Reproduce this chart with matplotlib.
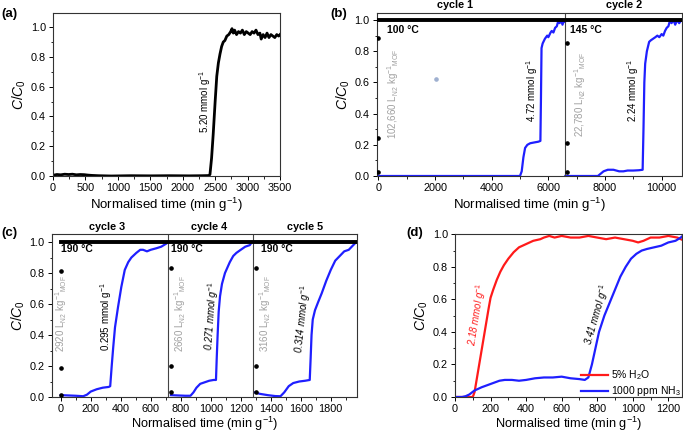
import matplotlib
matplotlib.use("Agg")
import matplotlib.pyplot as plt
from matplotlib.ticker import MultipleLocator

plt.rcParams['font.family'] = ['Liberation Sans', 'DejaVu Sans']
plt.rcParams['mathtext.fontset'] = 'custom'
plt.rcParams['mathtext.rm'] = 'Liberation Sans'
plt.rcParams['mathtext.it'] = 'Liberation Sans:italic'
plt.rcParams['mathtext.bf'] = 'Liberation Sans:bold'

# ---------------- data ----------------
# (a)
a_time = [0, 60, 120, 180, 240, 300, 360, 420, 480, 540, 600, 700, 900, 1200, 1500, 1800, 2100, 2300,
          2400, 2420, 2445, 2470, 2500, 2525, 2550, 2575, 2600, 2625, 2650, 2680, 2710, 2740, 2760, 2780,
          2800, 2830, 2860, 2890, 2920, 2950, 2980, 3010, 3040, 3070, 3100, 3130, 3160, 3190, 3210, 3240,
          3270, 3300, 3330, 3360, 3390, 3420, 3450, 3480, 3500]
a_c = [0.005, 0.01, 0.008, 0.012, 0.01, 0.012, 0.008, 0.01, 0.009, 0.006, 0.004, 0.002, 0.0, 0.002, 0.001,
       0.002, 0.001, 0.002, 0.003, 0.01, 0.12, 0.28, 0.5, 0.67, 0.76, 0.82, 0.87, 0.9, 0.91, 0.94, 0.95,
       0.97, 0.99, 0.96, 0.98, 0.95, 0.97, 0.96, 0.98, 0.95, 0.97, 0.96, 0.95, 0.97, 0.96, 0.98, 0.95, 0.96,
       0.92, 0.95, 0.93, 0.96, 0.93, 0.95, 0.94, 0.93, 0.95, 0.94, 0.95]

# (b) cycle 1 and cycle 2 (blue), reference (black)
b1_time = [0, 1000, 2000, 3000, 4000, 5000, 5060, 5120, 5180, 5260, 5360, 5500, 5650, 5720, 5740, 5760,
           5800, 5880, 5960, 6000, 6080, 6120, 6180, 6240, 6300, 6360, 6400, 6450, 6500, 6560, 6590]
b1_c = [0, 0, 0, 0, 0, 0.0, 0.03, 0.12, 0.18, 0.2, 0.21, 0.215, 0.22, 0.225, 0.5, 0.82, 0.85, 0.88, 0.9,
        0.89, 0.92, 0.93, 0.92, 0.95, 0.96, 1.0, 0.98, 1.0, 0.97, 1.0, 0.99]
b2_time = [6600, 7000, 7500, 7750, 7850, 7950, 8100, 8300, 8500, 8650, 8800, 9000, 9200, 9330, 9360, 9390,
           9420, 9480, 9560, 9620, 9700, 9780, 9850, 9920, 10000, 10060, 10120, 10180, 10240, 10300, 10350,
           10420, 10480, 10550, 10620, 10700]
b2_c = [0, 0, 0, 0, 0.015, 0.03, 0.04, 0.04, 0.03, 0.03, 0.035, 0.035, 0.037, 0.04, 0.3, 0.6, 0.72, 0.8,
        0.86, 0.87, 0.88, 0.89, 0.9, 0.89, 0.91, 0.9, 0.93, 0.95, 0.96, 1.0, 0.98, 1.0, 0.97, 1.0, 0.98, 1.0]
b_ref_time = [0, 10700]
b_ref_c = [1.0, 1.0]
b_dot_time = [0, 0, 0, 6650, 6650, 6650]
b_dot_c = [0.887, 0.242, 0.028, 0.855, 0.214, 0.028]
b_grey_time = [2025]
b_grey_c = [0.62]
b_cycle_edges = [6590]

# (c) cycles 3-5
c3_time = [0, 50, 100, 150, 175, 200, 240, 280, 320, 330, 340, 350, 362, 382, 404, 427, 450, 471, 504,
           530, 549, 575, 600, 638, 670, 704, 715]
c3_c = [0.012, 0.01, 0.008, 0.005, 0.015, 0.035, 0.05, 0.06, 0.065, 0.07, 0.2, 0.32, 0.45, 0.58, 0.71,
        0.82, 0.87, 0.9, 0.93, 0.95, 0.95, 0.94, 0.95, 0.96, 0.97, 0.99, 1.0]
c4_time = [735, 780, 830, 865, 885, 905, 930, 960, 990, 1020, 1035, 1040, 1046, 1053, 1062, 1075, 1095,
           1127, 1150, 1171, 1200, 1230, 1260, 1275]
c4_c = [0.012, 0.01, 0.008, 0.008, 0.03, 0.06, 0.085, 0.095, 0.105, 0.11, 0.11, 0.25, 0.4, 0.55, 0.65,
        0.73, 0.8, 0.87, 0.91, 0.93, 0.95, 0.97, 0.98, 1.0]
c5_time = [1290, 1330, 1380, 1430, 1465, 1490, 1520, 1550, 1590, 1630, 1660, 1666, 1672, 1680, 1695, 1715,
           1740, 1770, 1800, 1830, 1860, 1890, 1920, 1950, 1970]
c5_c = [0.03, 0.02, 0.012, 0.006, 0.005, 0.03, 0.07, 0.09, 0.1, 0.105, 0.11, 0.25, 0.4, 0.5, 0.56, 0.61,
        0.67, 0.75, 0.82, 0.88, 0.91, 0.94, 0.95, 0.98, 1.0]
c_ref_time = [0, 1970]
c_ref_c = [1.0, 1.0]
c_dot_time = [0, 0, 0, 738, 738, 738, 1300, 1300, 1300]
c_dot_c = [0.815, 0.187, 0.01, 0.83, 0.2, 0.03, 0.83, 0.2, 0.03]
c_cycle_edges = [715, 1282]

# (d)
d_time_h2o = [0, 50, 100, 110, 130, 150, 170, 190, 200, 215, 235, 255, 275, 300, 330, 360, 400, 440, 480,
              500, 530, 560, 600, 650, 700, 750, 800, 850, 900, 950, 1000, 1030, 1060, 1100, 1150, 1200,
              1250, 1290]
d_c_h2o = [0, 0, 0, 0.03, 0.16, 0.29, 0.42, 0.55, 0.61, 0.66, 0.72, 0.77, 0.81, 0.85, 0.89, 0.92, 0.94,
           0.96, 0.97, 0.98, 0.99, 0.98, 0.99, 0.98, 0.98, 0.99, 0.98, 0.97, 0.98, 0.97, 0.96, 0.95, 0.96,
           0.98, 0.98, 0.99, 0.98, 0.96]
d_time_nh3 = [0, 40, 60, 80, 110, 150, 200, 250, 280, 320, 360, 400, 450, 500, 550, 600, 650, 700, 730,
              750, 770, 790, 810, 840, 870, 900, 930, 960, 990, 1020, 1050, 1080, 1120, 1160, 1200, 1240,
              1270, 1290]
d_c_nh3 = [0.0, 0.0, 0.005, 0.015, 0.04, 0.06, 0.08, 0.1, 0.105, 0.105, 0.1, 0.105, 0.115, 0.12, 0.12,
           0.125, 0.115, 0.11, 0.105, 0.12, 0.2, 0.3, 0.4, 0.5, 0.58, 0.66, 0.74, 0.8, 0.85, 0.88, 0.9,
           0.91, 0.92, 0.93, 0.95, 0.96, 0.98, 1.0]
d_labels = ['5% H$_2$O', '1000 ppm NH$_3$']

# ---------------- figure ----------------
W, H = 683, 432
fig = plt.figure(figsize=(W / 100, H / 100), dpi=100)

def rect(l, t, r, b):
    return [l / W, 1 - b / H, (r - l) / W, (b - t) / H]

TICK = 7.8
ANN = 7
GREY = '#a0a0a0'
BLUE = '#1f1fff'

def style(ax, xmaj, xmin, ymaj=0.2, ymin=0.1, xpad=2, lab=9.5):
    ax.xaxis.set_major_locator(MultipleLocator(xmaj))
    ax.xaxis.set_minor_locator(MultipleLocator(xmin))
    ax.yaxis.set_major_locator(MultipleLocator(ymaj))
    ax.yaxis.set_minor_locator(MultipleLocator(ymin))
    ax.tick_params(which='major', direction='out', length=3, width=0.7, labelsize=TICK, pad=2)
    ax.tick_params(which='minor', direction='out', length=1.8, width=0.6)
    ax.yaxis.set_major_formatter(matplotlib.ticker.FormatStrFormatter('%.1f'))
    for s in ax.spines.values():
        s.set_linewidth(0.8)
        s.set_color('#333333')
    ax.set_xlabel('Normalised time (min g$^{-1}$)', fontsize=lab, labelpad=xpad)
    ax.set_ylabel('$C/C_0$', fontsize=10, labelpad=2)

# (a)
axa = fig.add_axes(rect(53, 13, 280, 176))
axa.plot(a_time, a_c, color='black', lw=2.0)
axa.set_xlim(0, 3500)
axa.set_ylim(0, 1.095)
style(axa, 500, 250)
axa.text(2343, 0.50, '5.20 mmol g$^{-1}$', rotation=90, ha='center', va='center', fontsize=ANN)

# (b)
axb = fig.add_axes(rect(376.7, 13, 682, 176))
axb.plot(b_ref_time, b_ref_c, color='black', lw=2.8, zorder=3)
axb.plot(b1_time, b1_c, color=BLUE, lw=1.6, zorder=2)
axb.plot(b2_time, b2_c, color=BLUE, lw=1.6, zorder=2)
axb.plot(b_dot_time, b_dot_c, 'o', color='black', ms=2.3, zorder=4)
axb.plot(b_grey_time, b_grey_c, 'o', color='#9fb0d0', ms=2.3, zorder=4)
for e in b_cycle_edges:
    axb.axvline(e, color='#444444', lw=0.8)
axb.set_xlim(-60, 10720)
axb.set_ylim(0, 1.045)
style(axb, 2000, 1000)
axb.text(306, 0.936, '100 °C', fontsize=7.5, fontweight='bold', ha='left', va='center')
axb.text(6766, 0.936, '145 °C', fontsize=7.5, fontweight='bold', ha='left', va='center')
axb.text(519, 0.53, '102,660 L$_{\\rm N2}$ kg$^{-1}$$_{\\rm MOF}$', rotation=90, ha='center', va='center',
         fontsize=ANN, color=GREY)
axb.text(7120, 0.52, '22,780 L$_{\\rm N2}$ kg$^{-1}$$_{\\rm MOF}$', rotation=90, ha='center', va='center',
         fontsize=ANN, color=GREY)
axb.text(5425, 0.55, '4.72 mmol g$^{-1}$', rotation=90, ha='center', va='center', fontsize=ANN)
axb.text(8990, 0.55, '2.24 mmol g$^{-1}$', rotation=90, ha='center', va='center', fontsize=ANN)
axb.text(2720, 1.077, 'cycle 1', fontsize=7.8, fontweight='bold', ha='center', va='baseline')
axb.text(8675, 1.077, 'cycle 2', fontsize=7.8, fontweight='bold', ha='center', va='baseline')

# (c)
axc = fig.add_axes(rect(51.7, 234.3, 357, 397))
axc.plot(c_ref_time, c_ref_c, color='black', lw=2.8, zorder=3)
for tx, cy in ((c3_time, c3_c), (c4_time, c4_c), (c5_time, c5_c)):
    axc.plot(tx, cy, color=BLUE, lw=1.6, zorder=2)
axc.plot(c_dot_time, c_dot_c, 'o', color='black', ms=2.3, zorder=4)
for e in c_cycle_edges:
    axc.axvline(e, color='#444444', lw=0.8)
axc.set_xlim(-60, 1975)
axc.set_ylim(0, 1.05)
style(axc, 200, 100, xpad=0.3, lab=9.2)
for x0, lab in ((0, '190 °C'), (738, '190 °C'), (1338, '190 °C')):
    axc.text(x0, 0.955, lab, fontsize=7.5, fontweight='bold', ha='left', va='center')
for x0, lab in ((0, '2920'), (793, '2660'), (1360, '3160')):
    axc.text(x0, 0.54, lab + ' L$_{\\rm N2}$ kg$^{-1}$$_{\\rm MOF}$', rotation=90, ha='center',
             va='center', fontsize=ANN, color=GREY)
axc.text(305, 0.52, '0.295 mmol g$^{-1}$', rotation=90, ha='center', va='center', fontsize=ANN)
axc.text(1005, 0.52, '0.271 mmol g$^{-1}$', rotation=86, ha='center', va='center', fontsize=ANN,
         style='italic')
axc.text(1615, 0.50, '0.314 mmol g$^{-1}$', rotation=84, ha='center', va='center', fontsize=ANN,
         style='italic')
for x0, lab in ((310, 'cycle 3'), (990, 'cycle 4'), (1627, 'cycle 5')):
    axc.text(x0, 1.075, lab, fontsize=7.8, fontweight='bold', ha='center', va='baseline')

# (d)
axd = fig.add_axes(rect(455, 234.3, 681.7, 397))
axd.plot(d_time_h2o, d_c_h2o, color='#ff1a1a', lw=1.6, label=d_labels[0])
axd.plot(d_time_nh3, d_c_nh3, color=BLUE, lw=1.6, label=d_labels[1])
axd.set_xlim(0, 1275)
axd.set_ylim(0, 1.0)
style(axd, 200, 100, xpad=0.3, lab=9.2)
axd.text(122, 0.506, '2.18 mmol g$^{-1}$', rotation=81, ha='center', va='center', fontsize=ANN,
         style='italic', color='#ff1a1a')
axd.text(797, 0.506, '3.41 mmol g$^{-1}$', rotation=74, ha='center', va='center', fontsize=ANN,
         style='italic', color='black')
axd.legend(loc='lower right', bbox_to_anchor=(1.02, -0.04), frameon=False, fontsize=7.5,
           handlelength=2.6, borderaxespad=0.1, labelspacing=0.2, handletextpad=0.3)

# panel letters
for x, y, t in ((9, 14, '(a)'), (339, 14, '(b)'), (9, 233, '(c)'), (415, 233, '(d)')):
    fig.text(x / W, 1 - y / H, t, fontsize=9.5, fontweight='bold', ha='center', va='center')

fig.savefig('out.png', dpi=100)
